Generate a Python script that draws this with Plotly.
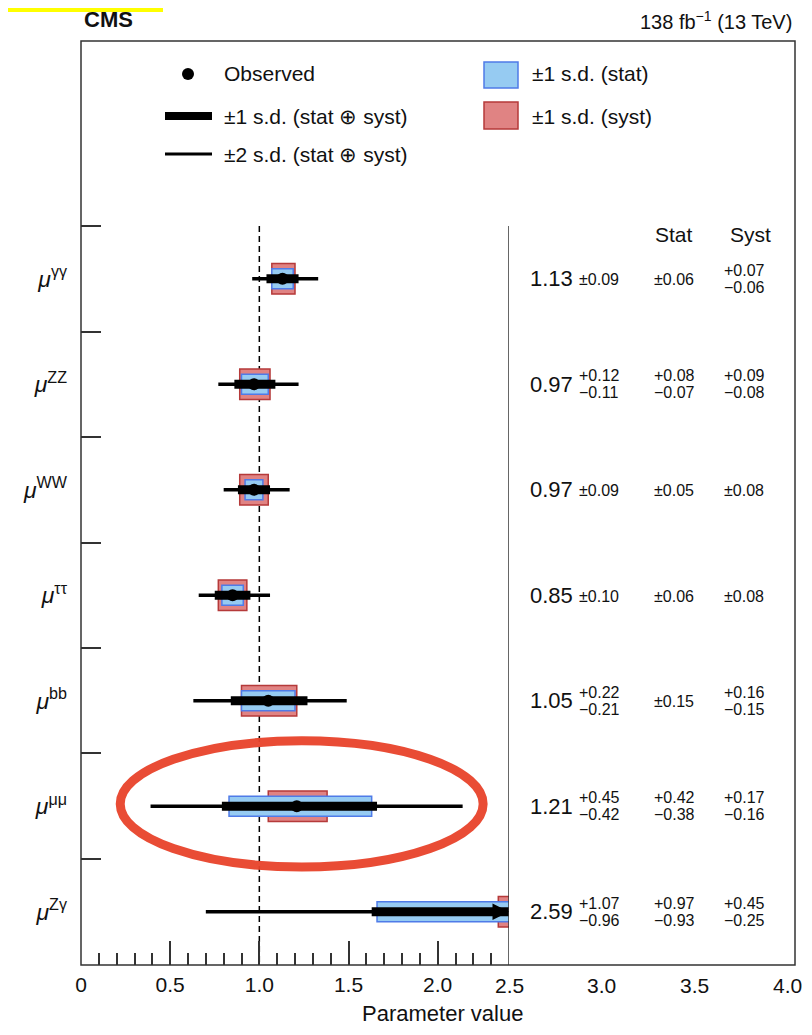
import plotly.graph_objects as go

# ---------------- data ----------------
channels = ["γγ", "ZZ", "WW", "ττ", "bb", "μμ", "Zγ"]
mu = [1.13, 0.97, 0.97, 0.85, 1.05, 1.21, 2.59]
tot_up = [0.09, 0.12, 0.09, 0.10, 0.22, 0.45, 1.07]
tot_dn = [0.09, 0.11, 0.09, 0.10, 0.21, 0.42, 0.96]
stat_up = [0.06, 0.08, 0.05, 0.06, 0.15, 0.42, 0.97]
stat_dn = [0.06, 0.07, 0.05, 0.06, 0.15, 0.38, 0.93]
syst_up = [0.07, 0.09, 0.08, 0.08, 0.16, 0.17, 0.45]
syst_dn = [0.06, 0.08, 0.08, 0.08, 0.15, 0.16, 0.25]
# +-2 s.d. interval ends
lo2 = [0.96, 0.77, 0.80, 0.66, 0.63, 0.39, 0.70]
hi2 = [1.33, 1.22, 1.17, 1.06, 1.49, 2.14, 4.60]
left_ticks = [0, 0.5, 1.0, 1.5, 2.0]
left_ticktext = ["0", "0.5", "1.0", "1.5", "2.0"]
right_ticks = [2.5, 3.0, 3.5, 4.0]
right_ticktext = ["2.5", "3.0", "3.5", "4.0"]

# ---------------- layout helpers ----------------
PAGE_W, PAGE_H = 812, 1035
BODY = 8                      # default page margin around the figure
FW, FH = PAGE_W - 2 * BODY, PAGE_H - 2 * BODY
L, R, T, B = 81, 795, 41, 965  # frame in page pixels
XL_MAX = 2.4                  # right end of the left (graphical) panel
XR_MAX = 4.04                 # right end of the right (text) panel
SEP_PX = 509
FONT = "Liberation Sans, Arial, Helvetica, sans-serif"
INK = "#111111"
FRAME = "#333333"


def X(px):
    return (px - L) / (R - L)


def Y(py):
    return 1 - (py - T) / (B - T)


rows = list(range(len(channels)))
y_top, y_bot = -2.254, 6.505

fig = go.Figure()

# syst boxes
fig.add_trace(go.Bar(
    orientation="h", y=rows,
    base=[m - d for m, d in zip(mu, syst_dn)],
    x=[u + d for u, d in zip(syst_up, syst_dn)],
    width=0.29,
    marker=dict(color="#E08383", line=dict(color="#B53A3A", width=1.5)),
    showlegend=False, hoverinfo="skip"))
# stat boxes
fig.add_trace(go.Bar(
    orientation="h", y=rows,
    base=[m - d for m, d in zip(mu, stat_dn)],
    x=[u + d for u, d in zip(stat_up, stat_dn)],
    width=0.19,
    marker=dict(color="#96CBF2", line=dict(color="#4F7BE8", width=1.5)),
    showlegend=False, hoverinfo="skip"))

# +-2 s.d. thin lines
xs, ys = [], []
for r, a, b in zip(rows, lo2, hi2):
    xs += [a, b, None]
    ys += [r, r, None]
fig.add_trace(go.Scatter(x=xs, y=ys, mode="lines",
                         line=dict(color="black", width=3.5),
                         showlegend=False, hoverinfo="skip"))
# +-1 s.d. thick lines
xs, ys = [], []
for r, m, u, d in zip(rows, mu, tot_up, tot_dn):
    xs += [m - d, m + u, None]
    ys += [r, r, None]
fig.add_trace(go.Scatter(x=xs, y=ys, mode="lines",
                         line=dict(color="black", width=9),
                         showlegend=False, hoverinfo="skip"))
# observed points
fig.add_trace(go.Scatter(x=mu, y=rows, mode="markers",
                         marker=dict(color="black", size=12),
                         cliponaxis=True, showlegend=False, hoverinfo="skip"))
# dummy trace for the right panel axis
fig.add_trace(go.Scatter(x=[right_ticks[0], right_ticks[-1]], y=[0, 0],
                         xaxis="x2", yaxis="y", mode="markers",
                         marker=dict(opacity=0), showlegend=False,
                         hoverinfo="skip"))

shapes = []
annotations = []

# dashed SM line
shapes.append(dict(type="line", xref="x", yref="y", x0=1, x1=1,
                   y0=-0.5, y1=y_bot, layer="below",
                   line=dict(color="black", width=1.5, dash="6px,4px")))
# separator between panels
shapes.append(dict(type="line", xref="x", yref="y", x0=XL_MAX, x1=XL_MAX,
                   y0=-0.5, y1=y_bot, layer="above",
                   line=dict(color=FRAME, width=1.5)))
# frame
shapes.append(dict(type="rect", xref="paper", yref="paper", x0=0, x1=1,
                   y0=0, y1=1, layer="above",
                   line=dict(color=FRAME, width=1.5)))
# hand-drawn ellipse around mu-mu row
shapes.append(dict(type="circle", xref="x", yref="y", x0=0.22, x1=2.255,
                   y0=4.38, y1=5.576, layer="above", opacity=0.95,
                   line=dict(color="#E8432B", width=9)))
# yellow highlight at top-left
shapes.append(dict(type="rect", xref="paper", yref="paper",
                   x0=X(BODY), x1=X(163), y0=Y(12), y1=Y(BODY),
                   layer="above", line=dict(width=0), fillcolor="#FFFF00"))

# Zγ arrow at panel edge
annotations.append(dict(x=XL_MAX, y=6, xref="x", yref="y", ax=-14, ay=0,
                        axref="pixel", ayref="pixel", text="", showarrow=True,
                        arrowhead=2, arrowsize=1.1, arrowwidth=3,
                        arrowcolor="black", standoff=0))

# right-panel axis labels
for v, t in zip(right_ticks, right_ticktext):
    annotations.append(dict(x=v, y=Y(985), xref="x2", yref="paper",
                            text=t, showarrow=False, xanchor="center",
                            yanchor="middle",
                            font=dict(family=FONT, size=21, color=INK)))

# ----- legend (manual) -----
shapes.append(dict(type="circle", xref="paper", yref="paper",
                   x0=X(182), x1=X(194), y0=Y(80), y1=Y(68),
                   fillcolor="black", line=dict(color="black", width=0)))
shapes.append(dict(type="line", xref="paper", yref="paper",
                   x0=X(165), x1=X(212), y0=Y(116), y1=Y(116),
                   line=dict(color="black", width=8)))
shapes.append(dict(type="line", xref="paper", yref="paper",
                   x0=X(165), x1=X(212), y0=Y(154), y1=Y(154),
                   line=dict(color="black", width=3)))
shapes.append(dict(type="rect", xref="paper", yref="paper",
                   x0=X(484), x1=X(518), y0=Y(88), y1=Y(62),
                   fillcolor="#96CBF2", line=dict(color="#4F7BE8", width=1.5)))
shapes.append(dict(type="rect", xref="paper", yref="paper",
                   x0=X(484), x1=X(518), y0=Y(129), y1=Y(102),
                   fillcolor="#E08383", line=dict(color="#B53A3A", width=1.5)))
leg_items = [(222, 74, "Observed"),
             (222, 116, "±1 s.d. (stat ⊕ syst)"),
             (222, 154, "±2 s.d. (stat ⊕ syst)"),
             (530, 74, "±1 s.d. (stat)"),
             (530, 116, "±1 s.d. (syst)")]
for px, py, t in leg_items:
    annotations.append(dict(x=X(px), y=Y(py), xref="paper", yref="paper",
                            text=t, showarrow=False, xanchor="left",
                            yanchor="middle",
                            font=dict(family=FONT, size=21, color=INK)))

# ----- header texts -----
annotations.append(dict(x=X(82), y=Y(19), xref="paper", yref="paper",
                        text="<b>CMS</b>", showarrow=False, xanchor="left",
                        yanchor="middle",
                        font=dict(family=FONT, size=22, color=INK)))
annotations.append(dict(x=X(794), y=Y(20), xref="paper", yref="paper",
                        text="138 fb<sup>−1</sup> (13 TeV)", showarrow=False,
                        xanchor="right", yanchor="middle",
                        font=dict(family=FONT, size=20, color=INK)))
annotations.append(dict(x=X(442), y=Y(1013), xref="paper", yref="paper",
                        text="Parameter value", showarrow=False,
                        xanchor="center", yanchor="middle",
                        font=dict(family=FONT, size=22, color=INK)))
for px, t in [(674, "Stat"), (750, "Syst")]:
    annotations.append(dict(x=X(px), y=Y(235), xref="paper", yref="paper",
                            text=t, showarrow=False, xanchor="center",
                            yanchor="middle",
                            font=dict(family=FONT, size=21, color=INK)))

# ----- right panel numbers -----
BIG, SMALL = 22, 16
NUM_R, ERR_L, STAT_C, SYST_C = 575, 577, 674, 744
DY = 8.5


def add_err(px, anchor, r, up, dn):
    if abs(up - dn) < 1e-9:
        annotations.append(dict(x=X(px), y=r, xref="paper", yref="y",
                                text=f"±{up:.2f}", showarrow=False,
                                xanchor=anchor, yanchor="middle", yshift=-1,
                                font=dict(family=FONT, size=SMALL, color=INK)))
    else:
        annotations.append(dict(x=X(px), y=r, xref="paper", yref="y",
                                text=f"+{up:.2f}", showarrow=False,
                                xanchor=anchor, yanchor="middle", yshift=DY,
                                font=dict(family=FONT, size=SMALL, color=INK)))
        annotations.append(dict(x=X(px), y=r, xref="paper", yref="y",
                                text=f"−{dn:.2f}", showarrow=False,
                                xanchor=anchor, yanchor="middle", yshift=-DY,
                                font=dict(family=FONT, size=SMALL, color=INK)))


for r in rows:
    annotations.append(dict(x=X(NUM_R), y=r, xref="paper", yref="y",
                            text=f"{mu[r]:.2f}", showarrow=False,
                            xanchor="right", yanchor="middle",
                            font=dict(family=FONT, size=BIG, color=INK)))
    add_err(ERR_L, "left", r, tot_up[r], tot_dn[r])
    add_err(STAT_C, "center", r, stat_up[r], stat_dn[r])
    add_err(SYST_C, "center", r, syst_up[r], syst_dn[r])

fig.update_layout(
    width=FW, height=FH,
    margin=dict(l=L - BODY, r=(PAGE_W - BODY) - R, t=T - BODY,
                b=(PAGE_H - BODY) - B, pad=0),
    paper_bgcolor="white", plot_bgcolor="white",
    barmode="overlay", showlegend=False,
    font=dict(family=FONT, color=INK),
    xaxis=dict(domain=[0, X(SEP_PX)], range=[0, XL_MAX], anchor="y",
               tickmode="array", tickvals=left_ticks, ticktext=left_ticktext,
               ticks="inside", ticklen=24, tickwidth=1.5, tickcolor=FRAME,
               minor=dict(tickmode="array",
                          tickvals=[i / 10 for i in range(1, 24) if i % 5],
                          ticks="inside", ticklen=12, tickwidth=1.5,
                          tickcolor=FRAME, showgrid=False),
               showgrid=False, zeroline=False, showline=False,
               ticklabelstandoff=5,
               tickfont=dict(family=FONT, size=21, color=INK)),
    xaxis2=dict(domain=[X(SEP_PX), 1], range=[right_ticks[0], XR_MAX],
                anchor="y", showticklabels=False, ticks="", showgrid=False,
                zeroline=False, showline=False),
    yaxis=dict(range=[y_bot, y_top], tickmode="array", tickvals=rows,
               ticktext=[f"<i>μ</i><sup>{c}</sup>" for c in channels],
               ticks="", showgrid=False, zeroline=False, showline=False,
               ticklabelstandoff=13,
               tickfont=dict(family=FONT, size=23, color=INK),
               minor=dict(tickmode="array", tickvals=[r - 0.5 for r in rows],
                          ticks="inside", ticklen=20, tickwidth=1.5,
                          tickcolor=FRAME, showgrid=False)),
    shapes=shapes, annotations=annotations,
)

fig.write_html("out.html")
